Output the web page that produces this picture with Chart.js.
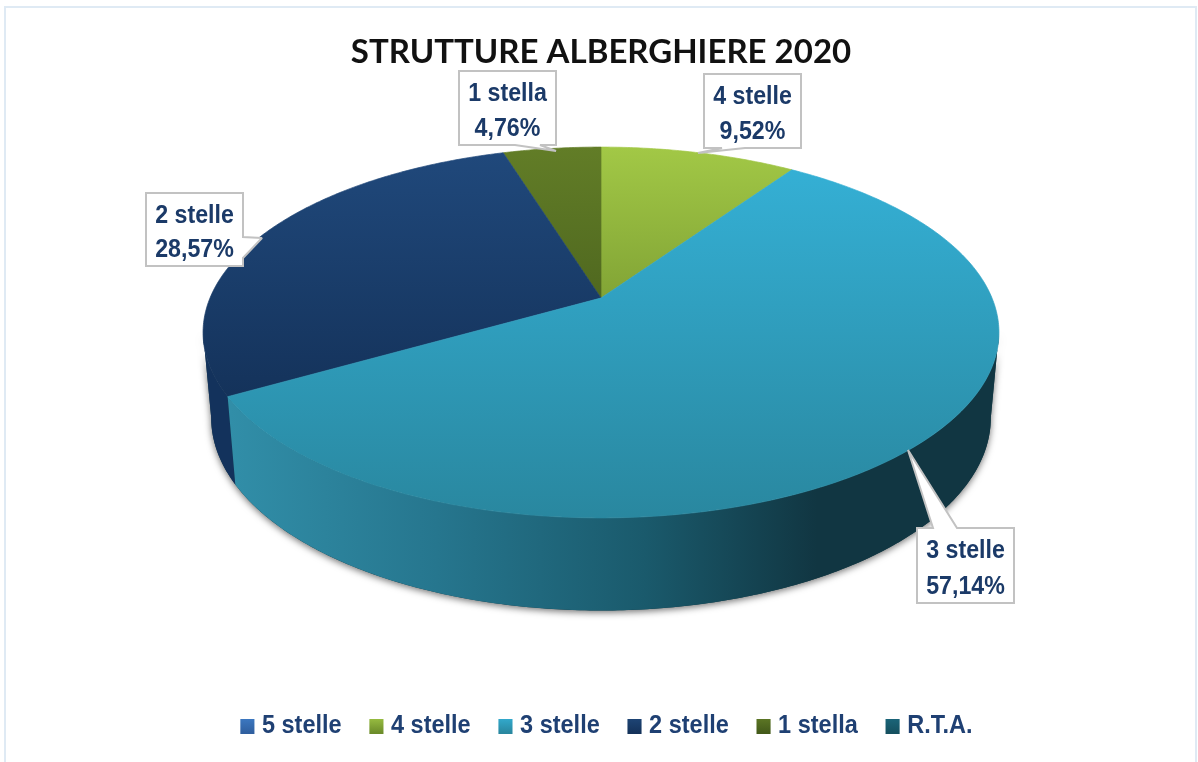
<!DOCTYPE html>
<html><head><meta charset="utf-8">
<style>html,body{margin:0;padding:0;background:#fff}canvas{display:block}</style>
<script src="https://cdn.jsdelivr.net/npm/chart.js@4/dist/chart.umd.min.js"></script>
</head><body>
<canvas id="c" width="1198" height="762"></canvas>
<script>
const titleText = 'STRUTTURE ALBERGHIERE 2020';
const categories = ['5 stelle','4 stelle','3 stelle','2 stelle','1 stella','R.T.A.'];
const structures = [0,2,12,6,1,0];
const topColors = ['#3f7ec9','#a2c846','#35b2d8','#20497c','#627d27','#1c6a80'];
const bottomColors = ['#2f5f9f','#6c8c2a','#29879f','#14325a','#435a1a','#15505f'];
const sideLeft = ['#2a5590','#6c8c2a','#318ea8','#13325c','#435a1a','#15505f'];
const sideRight = ['#2a5590','#6c8c2a','#113642','#13325c','#435a1a','#15505f'];
const font = '"Liberation Sans",sans-serif';

// perspective of the disc: offsets from the pie's own centre, multiples of its radius
const view = {k:0.186, baseR:306.2, topDy:-88.8, lowDy:-4.8, topRx:391, topRy:179, lowRx:383, lowRy:186};
// callout boxes: index into categories, box rect, pointer base and tip
const callouts = [
 {i:1,x:704,y:74,w:97,h:74,side:'b',a:722,b:745,tx:698,ty:153},
 {i:2,x:917,y:528,w:97,h:75,side:'t',a:933,b:957,tx:908,ty:450},
 {i:3,x:146,y:193,w:97,h:73,side:'r',a:237,b:258,tx:262,ty:238},
 {i:4,x:459,y:71,w:97,h:74,side:'b',a:515,b:540,tx:556,ty:151}
];

function pt(el,th,level){
  const c = Math.cos(th), s = Math.sin(th), w = 1 - view.k*s;
  const f = el.outerRadius/view.baseR;
  const dy = level ? view.lowDy : view.topDy;
  const rx = (level ? view.lowRx : view.topRx)*f;
  const ry = (level ? view.lowRy : view.topRy)*f;
  return [el.x + rx*c/w, el.y + dy + ry*s/w];
}
function arcPath(ctx,el,a,b,level,first){
  const n = Math.max(2,Math.ceil(Math.abs(b-a)/0.01));
  for(let i=0;i<=n;i++){
    const p = pt(el,a+(b-a)*i/n,level);
    if(i===0&&first) ctx.moveTo(p[0],p[1]); else ctx.lineTo(p[0],p[1]);
  }
}
const pie3d = {
  id:'pie3d',
  beforeDraw(chart){
    const ctx = chart.ctx, L = chart.legend;
    ctx.save();
    ctx.strokeStyle='#dfeaf4';ctx.lineWidth=2;
    ctx.strokeRect(5,7,1191,780);
    ctx.restore();
    if(!L._narrow){
      L._narrow = true;
      const d = L.draw;
      L.draw = function(){
        ctx.save();
        ctx.translate(608.5,-13);ctx.scale(0.94,1);ctx.translate(-(L.left+L.width/2),0);
        d.call(L);
        ctx.restore();
      };
    }
  },
  beforeDatasetDraw(chart,args){
    const ctx = chart.ctx, arcs = chart.getDatasetMeta(args.index).data;
    const ts = Math.asin(view.k), te = Math.PI - ts;
    ctx.save();
    const any = arcs[1];
    ctx.save();
    ctx.shadowColor='rgba(0,0,0,0.55)';ctx.shadowBlur=7;ctx.shadowOffsetY=2;
    ctx.fillStyle='#123945';
    ctx.beginPath();
    arcPath(ctx,any,ts,te,1,true);
    arcPath(ctx,any,te,ts,0,false);
    ctx.closePath();ctx.fill();
    ctx.restore();
    [3,2].forEach(i=>{
      const el = arcs[i];
      const a = Math.max(el.startAngle,ts), b = Math.min(el.endAngle,te);
      const g = ctx.createLinearGradient(230,0,920,0);
      g.addColorStop(0,sideLeft[i]);
      g.addColorStop(0.3,i===2?'#26768e':sideLeft[i]);
      g.addColorStop(0.6,i===2?'#1a5a6c':sideRight[i]);
      g.addColorStop(0.85,sideRight[i]);
      g.addColorStop(1,sideRight[i]);
      ctx.fillStyle=g;
      ctx.beginPath();
      arcPath(ctx,el,a,b,0,true);
      arcPath(ctx,el,b,a,1,false);
      ctx.closePath();ctx.fill();
    });
    [1,4,3,2].forEach(i=>{
      const el = arcs[i];
      const yEnd = i===2?520:400;
      const g = ctx.createLinearGradient(0,147,0,yEnd);
      g.addColorStop(0,topColors[i]);g.addColorStop(1,bottomColors[i]);
      ctx.fillStyle=g;ctx.strokeStyle=g;ctx.lineWidth=0.7;ctx.lineJoin='round';
      ctx.beginPath();
      ctx.moveTo(el.x,el.y+view.topDy);
      arcPath(ctx,el,el.startAngle,el.endAngle,0,false);
      ctx.closePath();ctx.fill();ctx.stroke();
    });
    ctx.restore();
    return false;
  },
  afterDatasetsDraw(chart){
    const ctx = chart.ctx, total = structures.reduce((a,b)=>a+b,0);
    callouts.forEach(c=>{
      ctx.save();
      ctx.fillStyle='#fff';ctx.strokeStyle='#c2c2c2';ctx.lineWidth=2;ctx.lineJoin='miter';ctx.miterLimit=2;
      ctx.beginPath();
      const r=c.x+c.w,bt=c.y+c.h;
      ctx.moveTo(c.x,c.y);
      if(c.side==='t'){ctx.lineTo(c.a,c.y);ctx.lineTo(c.tx,c.ty);ctx.lineTo(c.b,c.y);}
      ctx.lineTo(r,c.y);
      if(c.side==='r'){ctx.lineTo(r,c.a);ctx.lineTo(c.tx,c.ty);ctx.lineTo(r,c.b);}
      ctx.lineTo(r,bt);
      if(c.side==='b'){ctx.lineTo(c.b,bt);ctx.lineTo(c.tx,c.ty);ctx.lineTo(c.a,bt);}
      ctx.lineTo(c.x,bt);
      ctx.closePath();ctx.fill();ctx.stroke();
      ctx.fillStyle='#1b3a68';ctx.font='bold 25.5px '+font;
      ctx.textBaseline='middle';ctx.textAlign='center';
      const pct=(structures[c.i]/total*100).toFixed(2).replace('.',',')+'%';
      ctx.translate(c.x+c.w/2,c.y);ctx.scale(0.91,1);
      ctx.fillText(categories[c.i],0,c.h*0.31);
      ctx.fillText(pct,0,c.h*0.78);
      ctx.restore();
    });
  }
};
new Chart(document.getElementById('c'),{
  type:'pie',
  data:{labels:categories,datasets:[{data:structures,backgroundColor:topColors,borderWidth:0}]},
  plugins:[pie3d],
  options:{
    responsive:false,animation:false,
    layout:{padding:{left:4,right:0,top:0,bottom:0}},
    plugins:{
      tooltip:{enabled:false},
      title:{display:true,text:titleText,color:'#111',font:{family:'Lato',weight:'bold',size:33},padding:{top:33,bottom:8}},
      legend:{position:'bottom',
        labels:{color:'#1f4073',font:{family:font,weight:'bold',size:25},boxWidth:6,boxHeight:6,padding:34,
          generateLabels(chart){
            const ctx=chart.ctx;
            return categories.map((t,i)=>{
              const g=ctx.createLinearGradient(0,728,0,746);
              g.addColorStop(0,topColors[i]);g.addColorStop(1,bottomColors[i]);
              return {text:t,fillStyle:g,strokeStyle:g,lineWidth:9,fontColor:'#1f4073',index:i,hidden:false};
            });
          }}}
    }
  }
});
</script>
</body></html>
